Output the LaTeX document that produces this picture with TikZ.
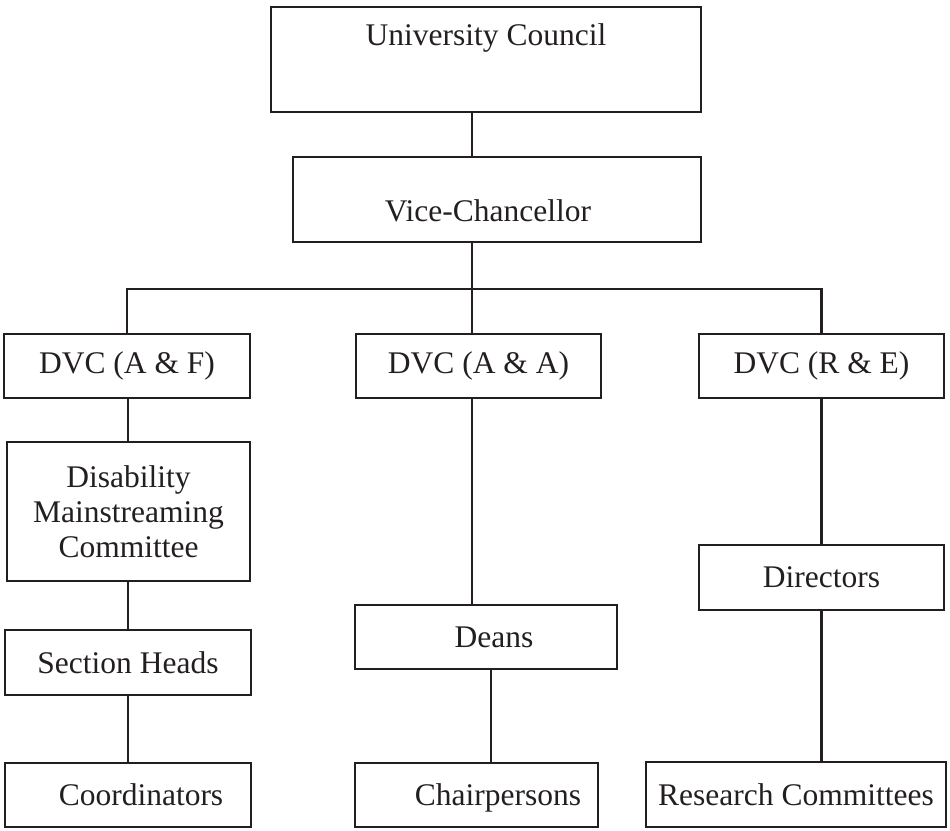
\documentclass[tikz,border=0pt]{standalone}
\usepackage{fontspec}
\setmainfont{Liberation Serif}
\definecolor{ink}{HTML}{231F20}

\begin{document}
\begin{tikzpicture}[x=1pt,y=-1pt,line width=2.6pt,font=\fontsize{31.5}{35}\selectfont,
  box/.style={draw=ink,text=ink,inner sep=2pt,align=center},
  tag/.style={text=ink}]
\useasboundingbox (0,0) rectangle (950,830);
\node[box,minimum width=430,minimum height=105,label={[tag,yshift=22pt]center:University Council}] (uc) at (486,59.5) {};
\node[box,minimum width=408,minimum height=85,label={[tag,xshift=-9pt,yshift=-11.5pt]center:Vice-Chancellor}] (vc) at (497,199.5) {};
\node[box,minimum width=246,minimum height=64] (dvcaf) at (127,366) {DVC (A \& F)};
\node[box,minimum width=245,minimum height=64] (dvcaa) at (478.5,366) {DVC (A \& A)};
\node[box,minimum width=245,minimum height=64] (dvcre) at (821.5,366) {DVC (R \& E)};
\node[box,minimum width=243,minimum height=139] (dmc) at (128.5,511.5) {Disability\\Mainstreaming\\Committee};
\node[box,minimum width=246,minimum height=65] (sh) at (128,662.5) {Section Heads};
\node[box,minimum width=246,minimum height=64,label={[tag,xshift=13pt]center:Coordinators}] (coord) at (128,795) {};
\node[box,minimum width=262,minimum height=64,label={[tag,xshift=8pt]center:Deans}] (deans) at (486,637) {};
\node[box,minimum width=243,minimum height=64,label={[tag,xshift=21.5pt,yshift=-3pt]center:Chairpersons}] (chair) at (476.5,795) {};
\node[box,minimum width=245,minimum height=65] (dir) at (821.5,577.5) {Directors};
\node[box,minimum width=300,minimum height=65] (rc) at (796,794.5) {Research Committees};
\coordinate (trunk) at (472,289);
\draw[ink] (uc.south -| trunk) -- (vc.north -| trunk);
\draw[ink] (vc.south -| trunk) -- (trunk);
\draw[ink] (dvcaf.north) |- (trunk) -| (dvcre.north);
\draw[ink] (trunk) -- (dvcaa.north -| trunk);
\draw[ink] (sh.north |- dvcaf.south) -- (sh.north |- dmc.north);
\draw[ink] (sh.north |- dmc.south) -- (sh.north);
\draw[ink] (sh.south) -- (sh.south |- coord.north);
\draw[ink] (dvcaa.south -| trunk) -- (deans.north -| trunk);
\draw[ink] ([xshift=5pt]deans.south) -- ([xshift=5pt]deans.south |- chair.north);
\draw[ink] (dvcre.south) -- (dir.north);
\draw[ink] (dir.south) -- (dir.south |- rc.north);
\end{tikzpicture}
\end{document}
